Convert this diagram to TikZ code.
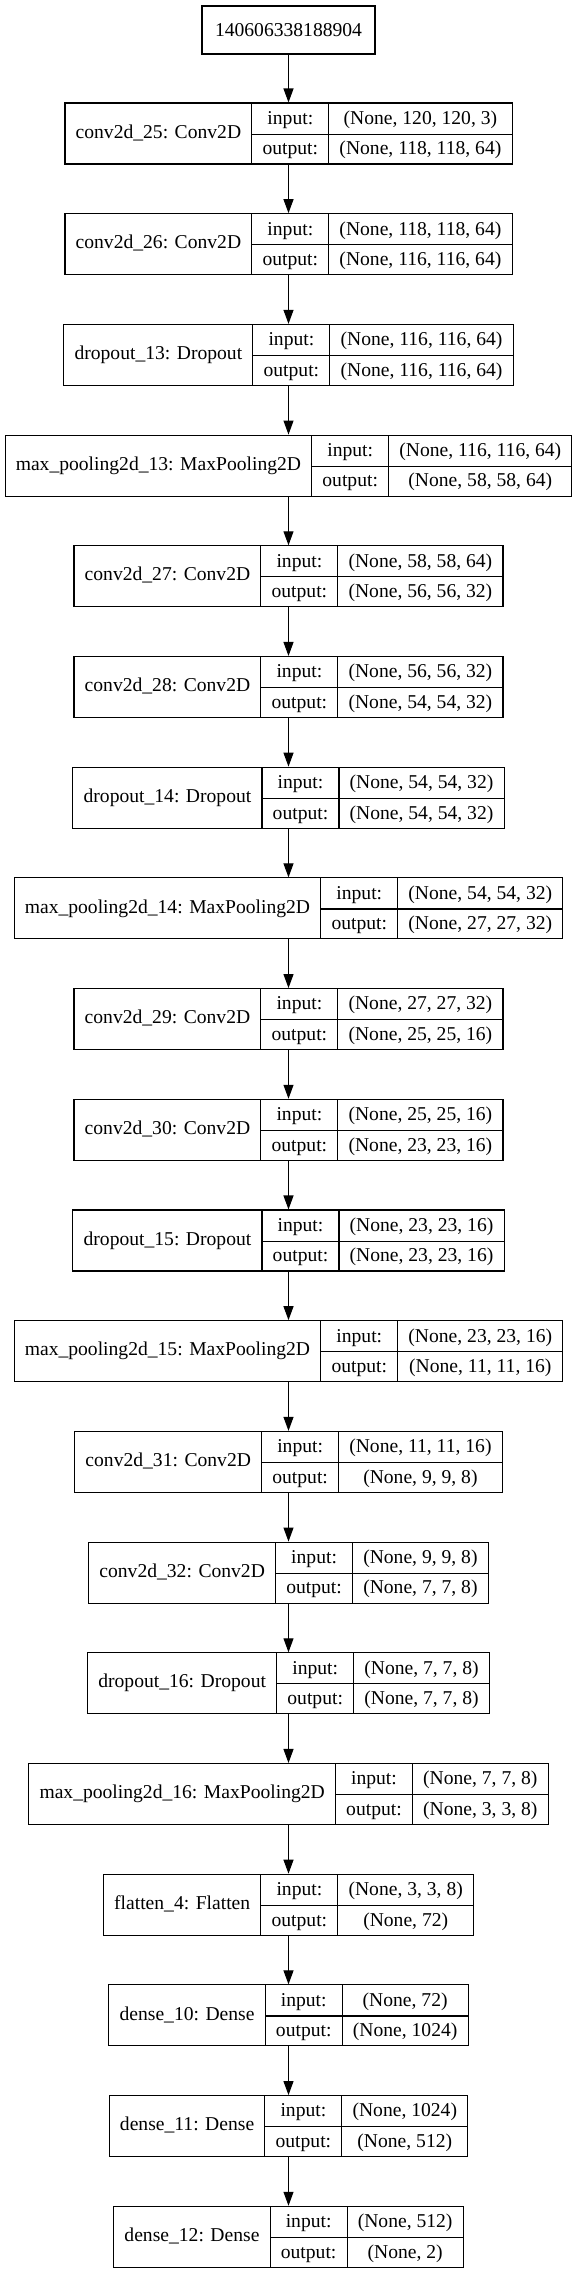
\documentclass[tikz,border=0pt]{standalone}
\usepackage{fontspec}
\setmainfont{Liberation Serif}
\usepackage{multirow}
\usetikzlibrary{arrows.meta}
\setlength{\tabcolsep}{10.7pt}
\setlength{\arrayrulewidth}{1.1pt}
\renewcommand{\arraystretch}{1.326}
\newcommand{\layertab}[3]{\begin{tabular}{c|c|c}\multirow{2}{*}{#1} & input: & #2\\\cline{2-3} & output: & #3\end{tabular}}
\begin{document}
\begin{tikzpicture}[x=1pt, y=-1pt, >={Triangle[length=14pt,width=10pt]}, line width=1.1pt, in node/.style={draw,minimum height=48pt,inner xsep=13pt,inner ysep=0pt}, layer node/.style={draw,inner sep=0pt}]
\useasboundingbox (0,0) rectangle (577,2273);
\begin{scope}[every node/.style={font=\fontsize{19.6}{23}\selectfont}]
\node [in node](v0) at (288.5,30) {140606338188904};
\node [layer node](v1) at (288.5,133.5) {\layertab{conv2d\_25: Conv2D}{(None, 120, 120, 3)}{(None, 118, 118, 64)}};
\node [layer node](v2) at (288.5,244.2) {\layertab{conv2d\_26: Conv2D}{(None, 118, 118, 64)}{(None, 116, 116, 64)}};
\node [layer node](v3) at (288.5,354.9) {\layertab{dropout\_13: Dropout}{(None, 116, 116, 64)}{(None, 116, 116, 64)}};
\node [layer node](v4) at (288.5,465.6) {\layertab{max\_pooling2d\_13: MaxPooling2D}{(None, 116, 116, 64)}{(None, 58, 58, 64)}};
\node [layer node](v5) at (288.5,576.3) {\layertab{conv2d\_27: Conv2D}{(None, 58, 58, 64)}{(None, 56, 56, 32)}};
\node [layer node](v6) at (288.5,687.0) {\layertab{conv2d\_28: Conv2D}{(None, 56, 56, 32)}{(None, 54, 54, 32)}};
\node [layer node](v7) at (288.5,797.7) {\layertab{dropout\_14: Dropout}{(None, 54, 54, 32)}{(None, 54, 54, 32)}};
\node [layer node](v8) at (288.5,908.4) {\layertab{max\_pooling2d\_14: MaxPooling2D}{(None, 54, 54, 32)}{(None, 27, 27, 32)}};
\node [layer node](v9) at (288.5,1019.1) {\layertab{conv2d\_29: Conv2D}{(None, 27, 27, 32)}{(None, 25, 25, 16)}};
\node [layer node](v10) at (288.5,1129.8) {\layertab{conv2d\_30: Conv2D}{(None, 25, 25, 16)}{(None, 23, 23, 16)}};
\node [layer node](v11) at (288.5,1240.5) {\layertab{dropout\_15: Dropout}{(None, 23, 23, 16)}{(None, 23, 23, 16)}};
\node [layer node](v12) at (288.5,1351.2) {\layertab{max\_pooling2d\_15: MaxPooling2D}{(None, 23, 23, 16)}{(None, 11, 11, 16)}};
\node [layer node](v13) at (288.5,1461.9) {\layertab{conv2d\_31: Conv2D}{(None, 11, 11, 16)}{(None, 9, 9, 8)}};
\node [layer node](v14) at (288.5,1572.6) {\layertab{conv2d\_32: Conv2D}{(None, 9, 9, 8)}{(None, 7, 7, 8)}};
\node [layer node](v15) at (288.5,1683.3) {\layertab{dropout\_16: Dropout}{(None, 7, 7, 8)}{(None, 7, 7, 8)}};
\node [layer node](v16) at (288.5,1794.0) {\layertab{max\_pooling2d\_16: MaxPooling2D}{(None, 7, 7, 8)}{(None, 3, 3, 8)}};
\node [layer node](v17) at (288.5,1904.7) {\layertab{flatten\_4: Flatten}{(None, 3, 3, 8)}{(None, 72)}};
\node [layer node](v18) at (288.5,2015.4) {\layertab{dense\_10: Dense}{(None, 72)}{(None, 1024)}};
\node [layer node](v19) at (288.5,2126.1) {\layertab{dense\_11: Dense}{(None, 1024)}{(None, 512)}};
\node [layer node](v20) at (288.5,2236.8) {\layertab{dense\_12: Dense}{(None, 512)}{(None, 2)}};
\end{scope}
\draw [->] (v0) edge (v1);
\draw [->] (v1) edge (v2);
\draw [->] (v2) edge (v3);
\draw [->] (v3) edge (v4);
\draw [->] (v4) edge (v5);
\draw [->] (v5) edge (v6);
\draw [->] (v6) edge (v7);
\draw [->] (v7) edge (v8);
\draw [->] (v8) edge (v9);
\draw [->] (v9) edge (v10);
\draw [->] (v10) edge (v11);
\draw [->] (v11) edge (v12);
\draw [->] (v12) edge (v13);
\draw [->] (v13) edge (v14);
\draw [->] (v14) edge (v15);
\draw [->] (v15) edge (v16);
\draw [->] (v16) edge (v17);
\draw [->] (v17) edge (v18);
\draw [->] (v18) edge (v19);
\draw [->] (v19) edge (v20);
\end{tikzpicture}
\end{document}
